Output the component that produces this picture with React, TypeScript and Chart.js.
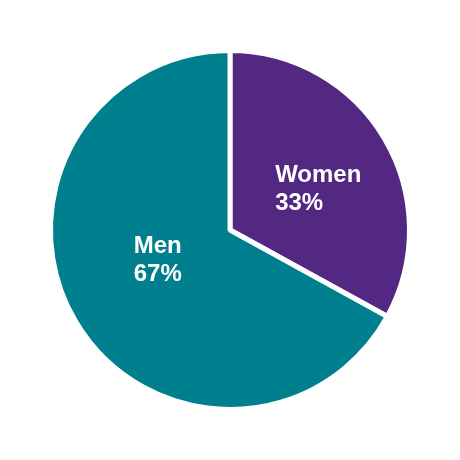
import React, { useEffect, useRef } from "react";
import { Chart, registerables } from "chart.js";

Chart.register(...registerables);

const categories = ["Women", "Men"];
const values = [33, 67];
const colors = ["#532882", "#00808F"];

const labelPlugin = {
  id: "sliceLabels",
  afterDatasetsDraw(chart: any) {
    const ctx = chart.ctx;
    const meta = chart.getDatasetMeta(0);
    const offsets = [
      [11, 5],
      [5, -15],
    ];
    ctx.save();
    ctx.fillStyle = "#ffffff";
    ctx.font = "bold 24px 'Liberation Sans', Arial, sans-serif";
    ctx.textBaseline = "middle";
    ctx.textAlign = "left";
    meta.data.forEach((arc: any, i: number) => {
      const p = arc.tooltipPosition();
      const lines = [categories[i], values[i] + "%"];
      const w = ctx.measureText(lines[0]).width;
      const cx = p.x + offsets[i][0];
      const cy = p.y + offsets[i][1];
      const x = cx - w / 2;
      ctx.fillText(lines[0], x, cy - 14);
      ctx.fillText(lines[1], x, cy + 14);
    });
    ctx.restore();
  },
};

export default function App() {
  const ref = useRef<HTMLCanvasElement>(null);
  useEffect(() => {
    if (!ref.current) return;
    const chart = new Chart(ref.current, {
      type: "pie",
      data: {
        labels: categories,
        datasets: [
          {
            data: values,
            backgroundColor: colors,
            borderColor: "#ffffff",
            borderWidth: 5,
          },
        ],
      },
      options: {
        responsive: false,
        animation: false,
        layout: { padding: 40 },
        plugins: {
          legend: { display: false },
          tooltip: { enabled: false },
        },
      },
      plugins: [labelPlugin],
    });
    return () => chart.destroy();
  }, []);
  return <canvas ref={ref} width={444} height={444} style={{ display: "block" }} />;
}
